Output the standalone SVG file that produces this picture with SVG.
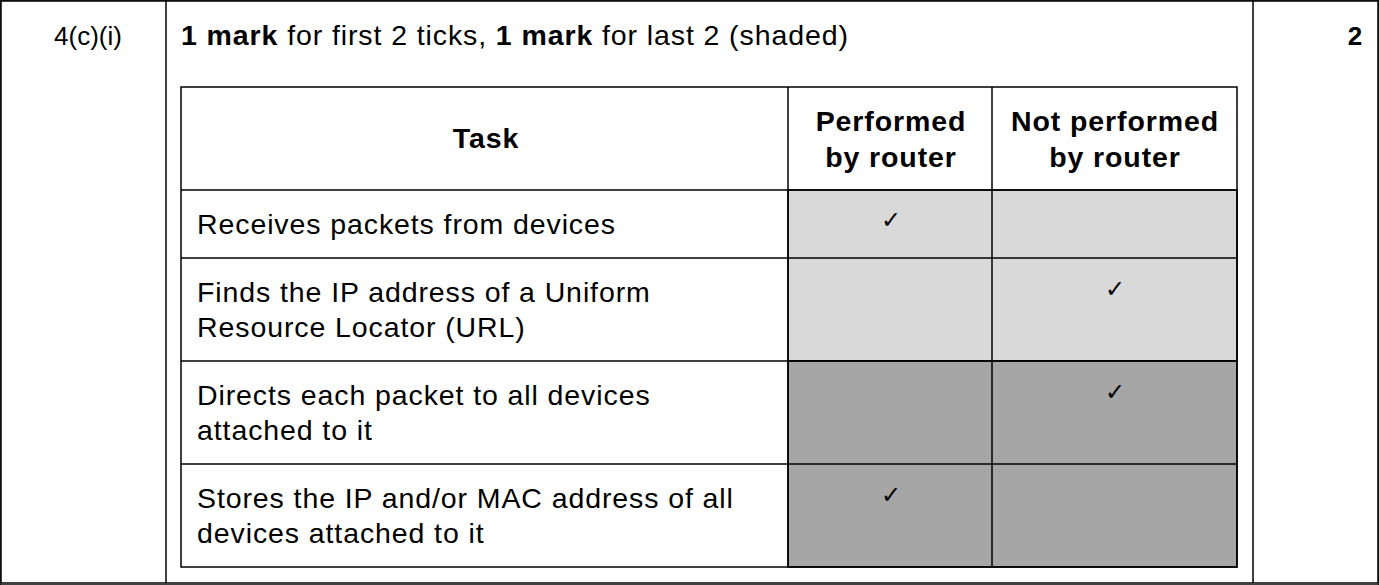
<svg xmlns="http://www.w3.org/2000/svg" width="1379" height="585" viewBox="0 0 1379 585">
<style>
text{font-family:"Liberation Sans",Arial,sans-serif;font-size:28.5px;letter-spacing:0.9px;fill:#000}
.b{font-weight:bold}
.c{text-anchor:middle}
.n{letter-spacing:0;font-size:26px}
.t{font-family:"DejaVu Sans",sans-serif;font-size:24px;text-anchor:middle;letter-spacing:0}
line,rect{stroke:#000;stroke-width:1.5}
</style>
<rect x="0" y="0" width="1379" height="585" fill="#fff" stroke="none"/>
<g id="frame" fill="none">
<rect x="1" y="1" width="1377" height="582"/>
<line x1="166" y1="1" x2="166" y2="583"/>
<line x1="1253" y1="1" x2="1253" y2="583"/>
</g>
<text x="88" y="45" class="c n">4(c)(i)</text>
<text x="181" y="45"><tspan class="b">1 mark</tspan> for first 2 ticks, <tspan class="b">1 mark</tspan> for last 2 (shaded)</text>
<text x="1355" y="45" class="b c n">2</text>
<g id="table">
<rect x="788" y="190" width="449" height="171" fill="#d9d9d9" stroke="none"/>
<rect x="788" y="361" width="449" height="206" fill="#a6a6a6" stroke="none"/>
<rect x="181" y="87" width="1056" height="480" fill="none"/>
<line x1="788" y1="87" x2="788" y2="567"/>
<line x1="992" y1="87" x2="992" y2="567"/>
<line x1="181" y1="190" x2="1237" y2="190"/>
<line x1="181" y1="258" x2="1237" y2="258"/>
<line x1="181" y1="361" x2="1237" y2="361"/>
<line x1="181" y1="464" x2="1237" y2="464"/>
</g>
<text x="486" y="148" class="b c">Task</text>
<text x="891" y="131" class="b c">Performed</text>
<text x="891" y="167" class="b c">by router</text>
<text x="1115" y="131" class="b c">Not performed</text>
<text x="1115" y="167" class="b c">by router</text>
<text x="197" y="234">Receives packets from devices</text>
<text x="197" y="302">Finds the IP address of a Uniform</text>
<text x="197" y="337">Resource Locator (URL)</text>
<text x="197" y="405">Directs each packet to all devices</text>
<text x="197" y="440">attached to it</text>
<text x="197" y="508">Stores the IP and/or MAC address of all</text>
<text x="197" y="543">devices attached to it</text>
<text x="891" y="228" class="t">✓</text>
<text x="1115" y="297" class="t">✓</text>
<text x="1115" y="400" class="t">✓</text>
<text x="891" y="503" class="t">✓</text>
</svg>
